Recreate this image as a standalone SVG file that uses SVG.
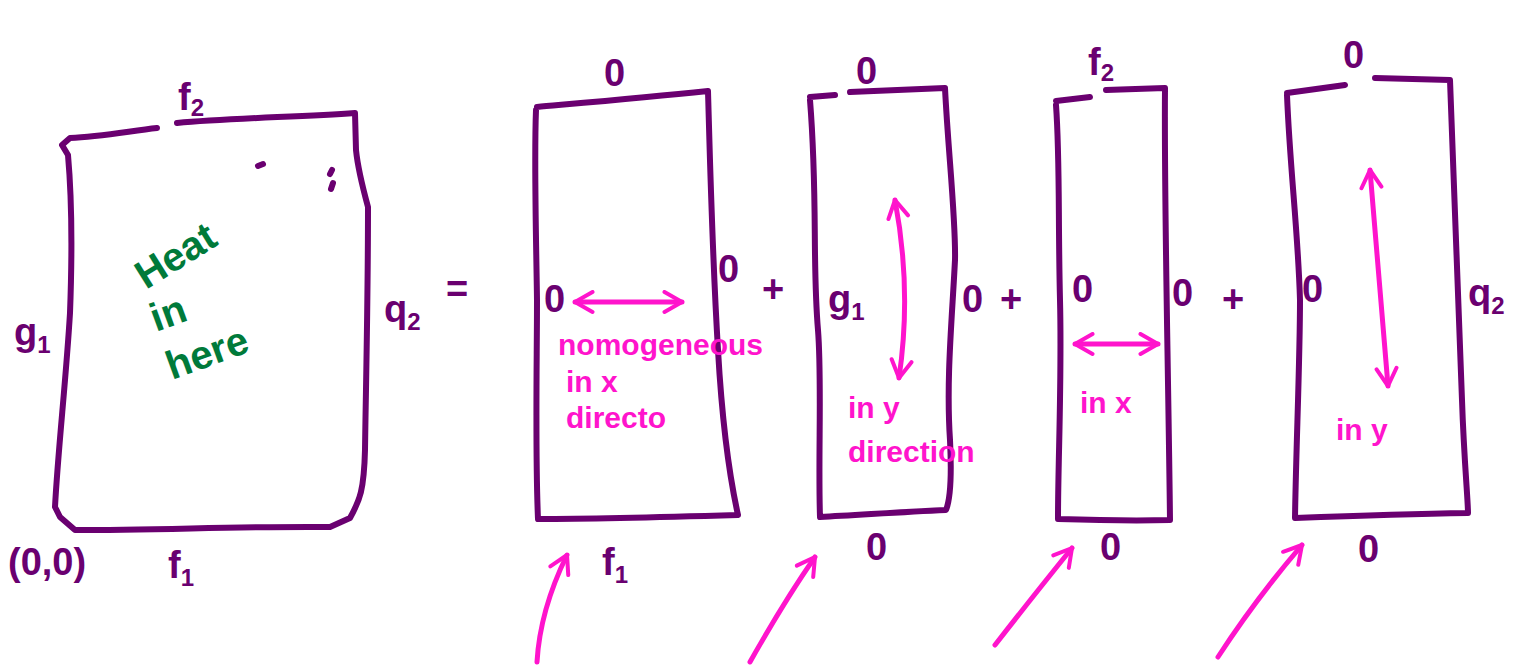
<svg xmlns="http://www.w3.org/2000/svg" width="1531" height="669" viewBox="0 0 1531 669">
<style>
.edge{fill:none;stroke:#6a0070;stroke-width:6;stroke-linecap:round;stroke-linejoin:round}
.lbl{fill:#6a0070;font-family:"Liberation Sans",Arial,sans-serif;font-size:38px;font-weight:bold}
.sub{font-size:24px}
.pk{fill:#ff14cc;font-family:"Liberation Sans",Arial,sans-serif;font-size:30px;font-weight:bold}
.green{fill:#007a3a;font-family:"Liberation Sans",Arial,sans-serif;font-size:40px;font-weight:bold}
.parr{fill:none;stroke:#ff14cc;stroke-width:5;stroke-linecap:round;stroke-linejoin:round}
</style>
<defs>
<marker id="ah" viewBox="0 0 10 10" refX="8" refY="5" markerWidth="5" markerHeight="5" orient="auto-start-reverse" markerUnits="strokeWidth">
<path d="M1,1 L8,5 L1,9" fill="none" stroke="#ff14cc" stroke-width="1.6" stroke-linecap="round" stroke-linejoin="round"/>
</marker>
</defs>
<rect width="1531" height="669" fill="#ffffff"/>

<g id="domain">
<path class="edge" d="M157,128 C130,131 100,137 70,138 L62,145 L68,155 C72,200 72,260 70,313 C66,380 58,450 55,507 L60,517 L75,530 C160,530 250,526 330,527 L350,518 C360,500 364,490 365,450 C366,380 368,300 368,207 C362,185 358,170 356,150 L355,113 C300,117 230,118 177,123"/>
<path class="edge" d="M258,166 L263,164 M330,174 L332,170 M333,183 L331,189" stroke-width="4"/>
<text class="lbl" x="178" y="110">f<tspan class="sub" dy="6">2</tspan></text>
<text class="lbl" x="14" y="345">g<tspan class="sub" dy="8">1</tspan></text>
<text class="lbl" x="384" y="322">q<tspan class="sub" dy="8">2</tspan></text>
<text class="lbl" x="8" y="575">(0,0)</text>
<text class="lbl" x="168" y="578">f<tspan class="sub" dy="8">1</tspan></text>
<text class="green" transform="translate(146,290) rotate(-32)">Heat</text>
<text class="green" font-size="24" transform="translate(156,332) rotate(-20)">in</text>
<text class="green" transform="translate(172,380) rotate(-20)">here</text>
<text class="lbl" x="446" y="302">=</text>
</g>

<g id="box-a">
<path class="edge" d="M537,107 C570,104 640,98 708,91 C710,160 712,250 718,350 C722,420 728,470 738,515 C670,517 600,519 538,519 C535,450 537,360 537,300 C536,230 534,160 536,110"/>
<text class="lbl" x="604" y="86">0</text>
<text class="lbl" x="718" y="282">0</text>
<text class="lbl" x="544" y="312">0</text>
<text class="lbl" x="602" y="575">f<tspan class="sub" dy="8">1</tspan></text>
<line class="parr" x1="575" y1="302" x2="682" y2="302" marker-start="url(#ah)" marker-end="url(#ah)"/>
<text class="pk" x="558" y="355">nomogeneous</text>
<text class="pk" x="566" y="392">in x</text>
<text class="pk" x="566" y="428">directo</text>
</g>

<text class="lbl" x="762" y="302">+</text>

<g id="box-b">
<path class="edge" d="M810,97 L835,95 M850,92 L945,88 C948,150 956,220 955,260 C952,320 946,380 950,440 C952,480 950,500 946,510 C900,512 860,515 820,517 C818,460 822,380 818,330 C812,260 818,200 810,100"/>
<text class="lbl" x="856" y="84">0</text>
<text class="lbl" x="828" y="312">g<tspan class="sub" dy="8">1</tspan></text>
<text class="lbl" x="962" y="312">0</text>
<text class="lbl" x="866" y="560">0</text>
<path class="parr" d="M895,200 Q912,290 899,378" marker-start="url(#ah)" marker-end="url(#ah)"/>
<text class="pk" x="848" y="418">in y</text>
<text class="pk" x="848" y="462">direction</text>
</g>

<text class="lbl" x="1000" y="312">+</text>

<g id="box-c">
<path class="edge" d="M1056,101 L1090,97 M1106,90 L1165,88 C1164,200 1168,350 1170,520 C1130,521 1090,520 1058,519 C1058,460 1062,380 1060,300 C1058,220 1060,160 1056,105"/>
<text class="lbl" x="1088" y="75">f<tspan class="sub" dy="6">2</tspan></text>
<text class="lbl" x="1072" y="302">0</text>
<text class="lbl" x="1172" y="306">0</text>
<text class="lbl" x="1100" y="560">0</text>
<line class="parr" x1="1075" y1="344" x2="1158" y2="344" marker-start="url(#ah)" marker-end="url(#ah)"/>
<text class="pk" x="1080" y="413">in x</text>
</g>

<text class="lbl" x="1222" y="312">+</text>

<g id="box-d">
<path class="edge" d="M1287,93 L1345,85 M1375,78 L1450,80 C1454,200 1460,320 1462,400 C1464,460 1468,500 1468,513 C1410,514 1350,516 1295,518 C1296,450 1300,360 1300,300 C1298,230 1290,170 1287,95"/>
<text class="lbl" x="1343" y="68">0</text>
<text class="lbl" x="1302" y="302">0</text>
<text class="lbl" x="1468" y="306">q<tspan class="sub" dy="8">2</tspan></text>
<text class="lbl" x="1358" y="562">0</text>
<line class="parr" x1="1370" y1="170" x2="1388" y2="386" marker-start="url(#ah)" marker-end="url(#ah)"/>
<text class="pk" x="1336" y="440">in y</text>
</g>

<g id="connectors">
<path class="parr" d="M537,662 Q540,610 567,555" marker-end="url(#ah)"/>
<path class="parr" d="M750,662 Q785,600 815,557" marker-end="url(#ah)"/>
<path class="parr" d="M995,645 Q1030,600 1072,548" marker-end="url(#ah)"/>
<path class="parr" d="M1218,657 Q1255,600 1302,545" marker-end="url(#ah)"/>
</g>
</svg>
